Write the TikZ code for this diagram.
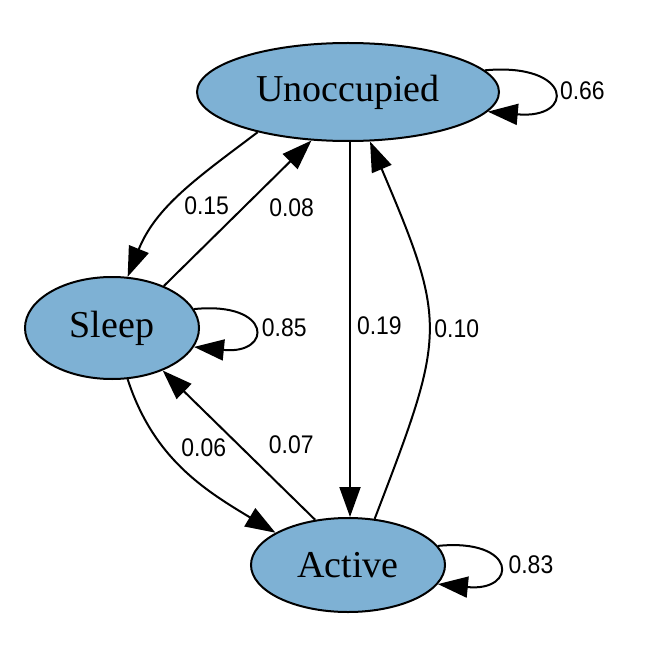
\documentclass[tikz,border=0pt]{standalone}
\usepackage{fontspec}
\usetikzlibrary{arrows.meta,shapes.geometric}
\newfontfamily\statefont{Liberation Serif}
\newfontfamily\probfont[FakeStretch=0.9]{Liberation Sans}
\definecolor{statefill}{RGB}{126,177,212}
\tikzset{
  state/.style={ellipse, draw, line width=2pt, fill=statefill, inner sep=0pt,
    font=\statefont\fontsize{38}{44}\selectfont},
  trans/.style={line width=2pt, -{Triangle[length=30pt,width=21pt]}},
  prob/.style={font=\probfont\fontsize{25.5}{30}\selectfont, inner sep=2pt}
}

\begin{document}
\begin{tikzpicture}[x=1pt,y=1pt]
\useasboundingbox (0,0) rectangle (655,-655);
\node[state, minimum width=302pt, minimum height=98pt] (U) at (348,-92) {Unoccupied};
\node[state, minimum width=174pt, minimum height=102pt] (S) at (112,-328) {Sleep};
\node[state, minimum width=194pt, minimum height=94pt] (A) at (348,-565) {Active};
\path[trans]
(U.204) edge[out=217,in=68] node[prob,pos=.58,right=10.7pt] (p15) {0.15} (S.73)
(S.39) edge node[prob,pos=.54,right=22.7pt] (p08) {0.08} (U.233)
([xshift=2pt]U.south) edge node[prob,pos=.49,right=4pt] (p19) {0.19} ([xshift=2pt]A.north)
(A.60) edge[out=69,in=293,looseness=1.35] node[prob,pos=.5,right=3pt] (p10) {0.10} (U.294)
(S.287) edge[out=288,in=149] node[prob,pos=.35,right=14.7pt] (p06) {0.06} (A.156)
(A.126) edge node[prob,pos=.5,right=27pt] (p07) {0.07} (S.320);
% self loops
\draw[trans] (U.9) .. controls +(88,8) and +(88,-8) .. node[prob,right=4.7pt] (p66) {0.66} (U.-8);
\draw[trans] (S.13) .. controls +(79,8) and +(79,-8) .. node[prob,right=5.7pt] (p85) {0.85} (S.-13);
\draw[trans] (A.12) .. controls +(80,8) and +(80,-8) .. node[prob,right=7.7pt] (p83) {0.83} (A.-12);
\end{tikzpicture}
\end{document}
